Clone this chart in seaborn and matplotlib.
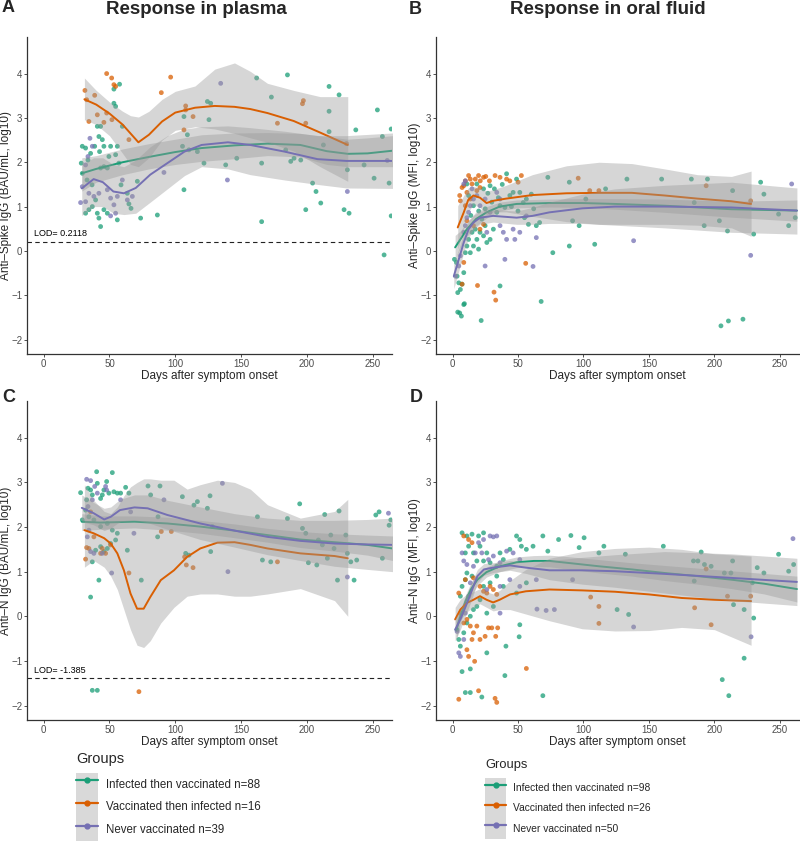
import numpy as np
import pandas as pd
import seaborn as sns
import matplotlib.pyplot as plt
from matplotlib.lines import Line2D
from matplotlib.patches import Patch
from matplotlib.legend_handler import HandlerTuple

groups = ["Infected then vaccinated", "Vaccinated then infected", "Never vaccinated"]
palette = {"Infected then vaccinated": "#1B9E77",
           "Vaccinated then infected": "#D95F02",
           "Never vaccinated": "#7570B3"}
n_plasma = [88, 16, 39]
n_oral = [98, 26, 50]

# ---------- points (day, log10 value) ----------
a_inf = [(29.4, 2.36), (28.6, 1.98), (31.9, 2.32), (35.7, 2.2), (33.7, 2.05), (38.8, 2.36), (40.8, 2.81),
         (42, 2.58), (43.3, 2.81), (44.6, 2.51), (42.5, 2.24), (45.8, 2.36), (43.3, 1.87), (45.8, 1.9),
         (48.4, 1.87), (49.6, 2.13), (50.9, 2.36), (54.7, 2.17), (56, 2.36), (57.2, 1.98), (53.4, 3.33),
         (54.7, 3.26), (57.7, 3.76), (53.4, 3.65), (59.8, 2.81), (29.4, 1.75), (33, 1.6), (36.8, 1.49),
         (31.9, 0.85), (34.4, 0.93), (37, 1.0), (39.5, 1.15), (40.8, 0.85), (42, 0.74), (43.3, 0.55),
         (45.8, 0.93), (48.4, 0.85), (56, 0.7), (58.8, 1.49), (63.6, 1.3), (64.8, 1.06), (66.4, 0.96),
         (71.2, 1.57), (73.7, 0.74), (86.4, 0.81), (106.6, 1.38), (109.2, 2.62), (106.6, 3.03),
         (105.5, 2.36), (110.4, 2.28), (116.8, 2.24), (124.4, 3.37), (126.9, 3.33), (125.6, 2.96),
         (121.8, 1.98), (138.3, 1.94), (146.7, 2.09), (161.8, 3.9), (173, 3.47), (165.6, 1.98),
         (165.6, 0.66), (185.2, 3.97), (183.9, 2.28), (187.7, 2.02), (190.2, 2.09), (195.3, 2.05),
         (199.1, 0.93), (204.3, 1.53), (206.9, 1.34), (210.5, 1.08), (212.5, 2.39), (216.8, 3.71),
         (216.8, 3.15), (216.8, 2.69), (224.4, 3.52), (228.2, 0.93), (230.7, 1.83), (232, 0.85),
         (237.1, 2.73), (243.4, 1.94), (251, 1.64), (253.5, 3.18), (257.3, 2.58), (262.4, 1.53),
         (258.6, -0.09), (264, 2.75), (264, 0.79)]
a_vac = [(31.4, 3.62), (32.7, 3.41), (38.8, 3.51), (34.4, 2.92), (40.8, 3.07), (47.9, 4.0), (51.7, 3.9),
         (53.4, 3.75), (54.7, 3.71), (47.9, 3.11), (51.9, 2.96), (45.8, 2.9), (64.8, 2.51), (89.4, 3.57),
         (96.5, 3.92), (107.9, 3.27), (107.9, 3.18), (113.5, 3.03), (106.6, 2.73), (177.6, 2.88),
         (196.6, 3.32), (197.3, 3.39), (199.1, 2.88), (230, 2.42)]
a_nev = [(134.5, 3.78), (139.6, 1.6), (35.2, 2.54), (37, 2.36), (33.7, 2.13), (31.9, 1.94), (28.1, 1.09),
         (31.9, 1.11), (34.4, 1.3), (38.2, 1.23), (29.4, 1.45), (42, 1.3), (48.4, 1.38), (50.9, 1.19),
         (53.4, 1.04), (56, 1.23), (54.7, 0.85), (50.9, 0.79), (59.8, 1.6), (63.6, 1.15), (67.4, 1.23),
         (91.4, 1.77), (230.7, 1.34), (261, 2.04)]

b_inf = [(1.5, -0.19), (3, -0.26), (3.5, -0.57), (4.8, -0.72), (6, -0.87), (4, -0.94), (5.5, -1.4),
         (8.6, -1.21), (7.3, -0.75), (8.6, -0.49), (9.8, -0.04), (11, 0.11), (12.3, 0.26), (13.6, -0.04),
         (14.9, 0.42), (16, 0.11), (17.4, 0.49), (18.6, 0.26), (19.9, 0.04), (21, 0.42), (22.4, 0.72),
         (23.7, 0.34), (24.9, 0.57), (26.2, 0.19), (28.7, 0.26), (31.2, 0.49), (33.8, 0.87), (36.3, 1.02),
         (40, 0.98), (43.8, 1.25), (46.3, 1.32), (48.9, 1.62), (51.4, 1.32), (54, 1.09), (56.4, 1.17),
         (60.2, 1.28), (64, 0.57), (66.5, 0.64), (11, 1.51), (12.3, 1.25), (16, 1.02), (18.6, 1.51),
         (23.7, 1.4), (28.7, 1.47), (41.3, 1.74), (72.8, 1.66), (76.6, -0.04), (89.2, 1.55), (89.2, 0.11),
         (91.7, 0.68), (96.7, 0.57), (101.8, 1.17), (108.6, 0.15), (116.9, 1.4), (133.2, 1.62),
         (159.7, 1.62), (182.4, 1.62), (184.6, 1.09), (194.7, 1.62), (192.2, 0.57), (203.8, 0.68),
         (210, 0.45), (213.9, 1.36), (230, 0.38), (235.3, 1.55), (237.8, 1.28), (249, 0.83),
         (256.7, 0.57), (261.7, 0.75), (36.3, -0.79), (4.0, -1.38), (6.8, -1.47), (9.1, -1.19),
         (21.9, -1.57), (67.7, -1.14), (205, -1.69), (210.7, -1.58), (221.8, -1.54), (14, 0.8),
         (20, 0.9), (25, 0.95), (30, 1.1), (35, 1.2), (45, 1.0), (50, 0.9), (55, 0.75), (58, 0.6),
         (62, 0.95), (27, 1.3), (32, 1.4), (38, 1.5)]
b_vac = [(12.3, 1.7), (13.6, 1.62), (14.9, 1.51), (17.4, 1.62), (19.9, 1.7), (21.2, 1.58), (23.7, 1.66),
         (25.4, 1.68), (9.8, 1.58), (8.6, 1.47), (7.3, 1.43), (5.5, 1.25), (6, 1.13), (11, 1.32),
         (13.6, 1.17), (18.6, 1.36), (21, 1.43), (32.5, 1.7), (36.3, 1.66), (41.3, 1.62), (43.8, 1.58),
         (50.1, 1.55), (52.6, 1.7), (9.8, 1.02), (11, 0.68), (16, 0.57), (21, 0.49), (23.7, 0.6),
         (8.6, -0.26), (7.3, -0.75), (19.1, -0.78), (31.7, -0.93), (33, -1.11), (55.9, -0.28),
         (96, 1.64), (104.8, 1.36), (111.8, 1.36), (193.7, 1.47), (227.7, 1.13), (28.2, 1.58)]
b_nev = [(2.3, -0.57), (4.8, -0.34), (6, -0.11), (8.6, 0.42), (9.8, 0.57), (11, 0.75), (12.3, 0.87),
         (13.6, 1.02), (16, 1.17), (14.9, 1.4), (9.8, 1.58), (8.6, 1.51), (18.6, 1.25), (21, 1.02),
         (24.9, 1.17), (26.2, 0.42), (28.7, 0.87), (33.8, 1.32), (36.3, 1.17), (36.3, 0.57), (38.8, 0.42),
         (41.3, 0.26), (46.3, 0.49), (47.6, 0.26), (51.4, 0.42), (56.4, 0.79), (64, 0.3), (61.5, -0.35),
         (24.9, -0.34), (40, -0.19), (138.3, 0.23), (227.7, -0.1), (259, 1.51)]

c_inf = [(28.1, 2.77), (29.4, 2.16), (32.7, 2.61), (33.7, 2.87), (35.7, 2.83), (37, 2.72), (40.3, 3.24),
         (40.8, 2.98), (43.3, 2.64), (44.6, 2.72), (45.8, 2.83), (47.9, 3.02), (49.6, 2.76), (52.2, 3.22),
         (53.4, 2.79), (56, 2.76), (58.5, 2.76), (62.3, 2.89), (64.8, 2.76), (31.9, 2.38), (34.4, 2.23),
         (38.2, 2.16), (43.3, 2.01), (48.4, 2.08), (52.2, 1.93), (56, 1.86), (35.7, 0.43), (42, 0.81),
         (37, 1.22), (39.5, 1.48), (43.3, 1.56), (45.8, 1.45), (48.4, 1.52), (50.9, 1.63), (54.7, 1.71),
         (63.6, 1.48), (37, -1.66), (40.8, -1.66), (74.2, 0.81), (79.3, 2.92), (88.4, 2.92), (81.3, 2.72),
         (86.9, 2.23), (86.6, 1.78), (105.4, 2.68), (107.9, 1.41), (110.4, 1.37), (114.2, 2.49),
         (116.8, 2.57), (124.4, 2.42), (126.4, 2.7), (126.9, 1.45), (128.2, 2.01), (162.4, 2.23),
         (166.2, 1.26), (172.5, 1.22), (185.2, 2.19), (194.5, 2.52), (196.6, 1.97), (199.1, 1.86),
         (201.1, 1.2), (207.5, 1.15), (208.7, 1.71), (211.7, 1.6), (213.5, 2.28), (215.5, 1.3),
         (218.1, 1.82), (220.6, 1.52), (223.2, 0.81), (224.4, 2.36), (229.5, 1.82), (230.7, 1.41),
         (233.3, 1.22), (235.8, 0.81), (237.8, 1.26), (252.3, 2.27), (254.8, 2.34), (257.3, 1.3),
         (262.4, 2.04), (263.7, 2.16)]
c_vac = [(31.9, 1.28), (34.4, 1.52), (32.7, 1.54), (38.2, 1.78), (44.6, 1.52), (47.1, 1.41), (50.9, 1.6),
         (43.3, 1.41), (35.7, 2.34), (64.8, 0.97), (72.4, -1.69), (89.4, 1.9), (97, 1.9), (108.4, 1.15),
         (113.5, 1.09), (107.1, 1.33), (177.6, 1.22)]
c_nev = [(32.7, 3.07), (35.7, 3.04), (33.7, 2.46), (38.8, 2.91), (40.8, 2.76), (47.1, 2.91), (47.9, 2.83),
         (37, 2.61), (34.4, 1.93), (33.2, 1.78), (35.7, 1.45), (38.2, 1.41), (44.6, 1.41), (51.7, 0.97),
         (58.5, 2.61), (66.1, 2.34), (68.6, 1.86), (91.4, 2.61), (135.8, 2.98), (140, 1.0), (230.7, 0.88),
         (261.9, 2.31)]

d_inf = [(7.3, 1.87), (11, 1.8), (14.9, 1.84), (19.9, 1.8), (23.7, 1.87), (12.3, 1.57), (9.8, 1.42),
         (16, 1.42), (21, 1.57), (26.2, 1.42), (18.6, 1.24), (23.7, 1.24), (28.7, 1.2), (33.8, 1.12),
         (36.3, 1.42), (38.8, 1.27), (43.8, 1.5), (48.9, 1.8), (51.4, 1.72), (52.6, 1.57), (56.4, 1.5),
         (61.5, 1.57), (69, 1.8), (72.8, 1.46), (81, 1.72), (90.4, 1.81), (96.7, 1.54), (100.5, 1.76),
         (111.8, 1.42), (115.6, 1.57), (132, 1.39), (134.5, 0.04), (161, 1.57), (184, 1.24), (184.6, 0.79),
         (187.4, 1.24), (189.9, 1.44), (192.4, 1.16), (197.5, 1.12), (207.6, 0.97), (212.6, 0.97),
         (213.9, 1.24), (222.7, -0.94), (222.7, 0.15), (229, 0.75), (230, -0.04), (232.7, 1.09),
         (237.8, 0.97), (249, 1.39), (256.7, 1.01), (260.5, 1.16), (206, -1.42), (211, -1.78),
         (69, -1.78), (40, -1.33), (26.2, -0.82), (13.6, -1.18), (7.3, -1.24), (9.8, -1.71),
         (13.6, -1.71), (22.4, -1.81), (50.9, -0.46), (51.4, -0.19), (40.8, -0.67), (3.5, -0.3),
         (4.8, -0.52), (6, -0.67), (8.6, -0.37), (11, -0.15), (13.6, 0.0), (16, 0.15), (18.6, 0.22),
         (6, 0.45), (7.3, 0.67), (9.8, 0.82), (11, 0.97), (14.9, 0.9), (23.7, 0.67), (28.7, 0.75),
         (33.8, 0.9), (38.8, 0.67), (21, 0.37), (26.2, 0.07), (31.2, 0.22), (48.9, 0.52), (56.4, 0.75),
         (125.7, 0.15), (214.6, 0.26)]
d_vac = [(8.6, 1.8), (12.3, 1.72), (14.9, 1.65), (9.8, 0.82), (16, 0.86), (21, 0.67), (23.7, 0.56),
         (26.2, 0.52), (28.7, 0.67), (31.2, 0.6), (33.8, 0.49), (4.8, 0.52), (6, 0.07), (8.6, -0.15),
         (11, -0.07), (13.6, -0.22), (16, -0.37), (18.6, -0.22), (21, -0.52), (24.9, -0.45), (27.5, -0.26),
         (30, -0.26), (33, -0.45), (34.5, -0.26), (14.9, -0.52), (11, -0.75), (12.3, -0.9), (16.9, -1.01),
         (4.8, -1.86), (19.9, -1.67), (32.5, -1.84), (33.8, -1.93), (56.4, -1.17), (105.5, 0.43),
         (111.8, 0.22), (111.8, -0.16), (184.9, 0.19), (193.7, 1.06), (197.5, -0.19), (210, 0.45),
         (227.7, 0.45)]
d_nev = [(3.5, -0.34), (4.8, -0.82), (6, -0.9), (8.6, -0.52), (9.8, 0.07), (12.3, 0.45), (13.6, 0.75),
         (16, 1.12), (17.4, 1.42), (19.9, 1.65), (23.7, 1.72), (28.7, 1.8), (31.2, 1.78), (33.8, 1.8),
         (22.4, 1.42), (27.5, 1.27), (31.2, 1.35), (36.3, 1.2), (41.3, 1.46), (46.3, 1.42), (51.4, 1.27),
         (8.6, 1.24), (7.3, 1.42), (11, 1.16), (26.2, 0.6), (36.3, 0.67), (43.8, 0.82), (51.4, 0.67),
         (64, 0.82), (64.5, 0.16), (71.5, 0.13), (77.8, 0.15), (91.7, 0.82), (138.3, -0.24),
         (228, -0.46), (260, 1.74), (36.3, 0.07)]

# ---------- smoothed fits (day, fit, lower, upper) ----------
a_inf_fit = [(29, 1.75, 1.35, 2.10), (40, 1.85, 1.55, 2.15), (60, 2.00, 1.72, 2.30), (80, 2.12, 1.85, 2.42),
             (100, 2.23, 1.95, 2.52), (120, 2.32, 2.02, 2.62), (145, 2.38, 2.08, 2.66), (170, 2.42, 2.15, 2.67),
             (195, 2.39, 2.12, 2.65), (215, 2.25, 1.95, 2.58), (231, 2.19, 1.90, 2.52), (246, 2.20, 1.90, 2.55),
             (265, 2.26, 1.90, 2.60)]
a_vac_fit = [(31, 3.42, 2.96, 3.90), (40, 3.30, 2.85, 3.62), (50, 3.10, 2.60, 3.36), (60, 2.85, 2.20, 3.15),
             (66, 2.65, 1.95, 3.05), (72, 2.45, 1.90, 3.02), (80, 2.62, 2.10, 3.15), (90, 2.92, 2.50, 3.42),
             (100, 3.12, 2.72, 3.60), (115, 3.23, 2.80, 3.72), (130, 3.27, 2.75, 4.10), (145, 3.25, 2.65, 4.24),
             (157, 3.20, 2.55, 4.05), (170, 3.11, 2.45, 3.78), (190, 2.93, 2.25, 3.62), (210, 2.67, 1.90, 3.48),
             (231, 2.39, 1.57, 3.48)]
a_nev_fit = [(29, 1.41, 0.80, 1.95), (38, 1.62, 1.00, 2.10), (45, 1.55, 1.00, 2.10), (53, 1.34, 0.85, 1.95),
             (61, 1.30, 0.82, 1.90), (70, 1.42, 0.85, 2.05), (81, 1.72, 1.10, 2.35), (94, 1.98, 1.40, 2.60),
             (107, 2.24, 1.70, 2.75), (120, 2.39, 1.90, 2.80), (140, 2.45, 1.85, 2.82), (157, 2.39, 1.72, 2.78),
             (183, 2.24, 1.60, 2.70), (208, 2.07, 1.50, 2.60), (230, 2.03, 1.42, 2.60), (265, 2.03, 1.41, 2.66)]

b_inf_fit = [(2, 0.08, -0.20, 0.35), (6, 0.26, 0.07, 0.45), (11, 0.49, 0.33, 0.65), (18, 0.72, 0.56, 0.88),
             (26, 0.87, 0.74, 1.00), (36, 1.00, 0.90, 1.10), (49, 1.06, 0.97, 1.15), (74, 1.08, 0.99, 1.17),
             (99, 1.08, 0.98, 1.18), (124, 1.06, 0.94, 1.18), (162, 1.02, 0.87, 1.17), (213, 0.94, 0.76, 1.12),
             (263, 0.91, 0.67, 1.15)]
b_vac_fit = [(4, 0.53, 0.04, 1.02), (8.6, 0.87, 0.50, 1.25), (12, 1.15, 0.88, 1.42), (16, 1.25, 1.05, 1.45),
             (21, 1.20, 0.98, 1.42), (26, 1.08, 0.82, 1.35), (31, 1.13, 0.88, 1.38), (41, 1.18, 0.88, 1.48),
             (61, 1.26, 0.78, 1.72), (87, 1.30, 0.66, 1.92), (112, 1.31, 0.60, 2.00), (137, 1.31, 0.60, 1.97),
             (162, 1.25, 0.60, 1.85), (187, 1.18, 0.58, 1.72), (213, 1.12, 0.52, 1.68), (228, 1.06, 0.33, 1.80)]
b_nev_fit = [(1, -0.57, -0.85, -0.30), (4.8, -0.19, -0.45, 0.05), (8.6, 0.19, -0.03, 0.40),
             (12.3, 0.49, 0.30, 0.68), (16, 0.64, 0.48, 0.80), (21, 0.75, 0.60, 0.90), (31, 0.79, 0.65, 0.93),
             (49, 0.75, 0.60, 0.90), (61, 0.79, 0.60, 0.98), (74, 0.87, 0.62, 1.10), (99, 0.96, 0.62, 1.28),
             (124, 1.00, 0.58, 1.40), (162, 1.00, 0.52, 1.48), (213, 0.98, 0.42, 1.55), (263, 0.91, 0.38, 1.42)]

c_inf_fit = [(29, 2.12, 1.92, 2.30), (43, 2.10, 1.95, 2.25), (69, 2.12, 1.98, 2.25), (94, 2.08, 1.93, 2.22),
             (119, 2.01, 1.86, 2.15), (145, 1.92, 1.76, 2.07), (170, 1.82, 1.66, 1.97), (195, 1.72, 1.54, 1.90),
             (221, 1.66, 1.46, 1.85), (246, 1.60, 1.37, 1.82), (265, 1.52, 1.25, 1.80)]
c_vac_fit = [(31, 1.93, 1.10, 2.95), (38, 1.86, 1.25, 2.60), (46, 1.75, 1.10, 2.35), (51, 1.63, 0.90, 2.30),
             (56, 1.41, 0.60, 2.45), (61, 1.03, 0.15, 2.70), (66, 0.51, -0.30, 2.90), (71, 0.17, -0.65, 3.00),
             (76, 0.17, -0.70, 3.08), (81, 0.43, -0.55, 3.08), (89, 0.81, -0.15, 3.05), (99, 1.03, 0.20, 3.05),
             (109, 1.33, 0.45, 2.85), (119, 1.52, 0.50, 2.95), (132, 1.65, 0.50, 3.05), (145, 1.66, 0.45, 3.00),
             (157, 1.60, 0.45, 2.85), (170, 1.52, 0.50, 2.50), (195, 1.41, 0.62, 2.20), (221, 1.35, 0.35, 2.35),
             (231, 1.30, 0.00, 2.62)]
c_nev_fit = [(29, 2.43, 2.12, 2.72), (38, 2.31, 2.05, 2.55), (46, 2.17, 1.92, 2.42), (51, 2.23, 1.98, 2.45),
             (58, 2.38, 2.12, 2.62), (69, 2.44, 2.15, 2.72), (79, 2.42, 2.10, 2.72), (94, 2.27, 1.95, 2.60),
             (119, 2.08, 1.72, 2.45), (145, 1.92, 1.55, 2.30), (170, 1.78, 1.38, 2.20), (195, 1.69, 1.25, 2.15),
             (221, 1.63, 1.12, 2.15), (246, 1.61, 1.05, 2.17), (265, 1.60, 1.00, 2.20)]

d_inf_fit = [(3, -0.30, -0.50, -0.10), (6, 0.00, -0.15, 0.15), (10, 0.34, 0.20, 0.48), (14, 0.60, 0.45, 0.75),
             (19, 0.82, 0.69, 0.95), (26, 0.99, 0.88, 1.10), (36, 1.12, 1.00, 1.24), (49, 1.21, 1.09, 1.33),
             (62, 1.24, 1.12, 1.36), (74, 1.24, 1.11, 1.37), (87, 1.20, 1.06, 1.34), (112, 1.12, 0.97, 1.27),
             (137, 1.05, 0.90, 1.20), (162, 0.97, 0.80, 1.14), (187, 0.90, 0.72, 1.08), (213, 0.82, 0.62, 1.02),
             (238, 0.73, 0.50, 0.96), (263, 0.61, 0.32, 0.90)]
d_vac_fit = [(2, -0.07, -0.35, 0.20), (6, 0.15, -0.08, 0.38), (11, 0.30, 0.10, 0.50), (16, 0.37, 0.20, 0.55),
             (21, 0.45, 0.28, 0.62), (26, 0.37, 0.20, 0.55), (31, 0.31, 0.12, 0.50), (36, 0.37, 0.15, 0.58),
             (44, 0.49, 0.15, 0.80), (56, 0.56, 0.05, 1.05), (74, 0.60, -0.10, 1.30), (99, 0.58, -0.28, 1.45),
             (124, 0.55, -0.33, 1.52), (150, 0.49, -0.32, 1.55), (175, 0.41, -0.25, 1.50), (200, 0.37, -0.30, 1.40),
             (228, 0.34, -0.65, 1.35)]
d_nev_fit = [(2, -0.30, -0.55, -0.05), (6, -0.07, -0.30, 0.15), (10, 0.22, 0.02, 0.42), (14, 0.52, 0.32, 0.72),
             (19, 0.90, 0.75, 1.05), (24, 1.05, 0.92, 1.18), (31, 1.09, 0.98, 1.20), (44, 1.14, 1.03, 1.25),
             (56, 1.09, 0.96, 1.22), (74, 1.03, 0.82, 1.25), (99, 1.03, 0.72, 1.32), (124, 1.01, 0.65, 1.38),
             (162, 0.95, 0.52, 1.45), (213, 0.86, 0.35, 1.40), (263, 0.77, 0.24, 1.30)]

lod_plasma_spike = 0.2118
lod_plasma_n = -1.385

sns.set_style("white")
plt.rcParams["font.family"] = ["Liberation Sans", "DejaVu Sans"]


def draw_panel(ax, pts, fits, ylabel, lod=None, lod_text=""):
    frames = []
    for g, p in zip(groups, pts):
        arr = np.array(p)
        frames.append(pd.DataFrame({"day": arr[:, 0], "value": arr[:, 1], "group": g}))
    df = pd.concat(frames, ignore_index=True)
    sns.scatterplot(data=df, x="day", y="value", hue="group", hue_order=groups, palette=palette,
                    s=12, alpha=0.75, linewidth=0, legend=False, ax=ax, zorder=2)
    if lod is not None:
        ax.axhline(lod, color="#222222", lw=0.8, ls=(0, (4, 3)), zorder=1)
        ax.text(-7.6, lod + 0.07, lod_text, fontsize=6.5, ha="left", va="bottom", color="black")
    # ribbon then line, group by group (ggplot order)
    for g, f in zip(groups, fits):
        arr = np.array(f)
        ax.fill_between(arr[:, 0], arr[:, 2], arr[:, 3], color="#999999", alpha=0.4, lw=0, zorder=3)
        sns.lineplot(x=arr[:, 0], y=arr[:, 1], color=palette[g], lw=1.4, ax=ax, zorder=3)
    ax.set_xlim(-12.6, 264.6)
    ax.set_ylim(-2.325, 4.825)
    ax.set_xticks([0, 50, 100, 150, 200, 250])
    ax.set_yticks([-2, -1, 0, 1, 2, 3, 4])
    ax.set_xlabel("Days after symptom onset", fontsize=8.5)
    ax.set_ylabel(ylabel, fontsize=8.5)
    ax.xaxis.set_label_coords(0.5, -0.05)
    ax.yaxis.set_label_coords(-0.042, 0.5)
    ax.tick_params(axis="both", length=2, width=0.6, color="#333333", labelcolor="#4D4D4D",
                   labelsize=7, pad=1.5, bottom=True, left=True)
    sns.despine(ax=ax)
    for s in ("left", "bottom"):
        ax.spines[s].set_color("#333333")
        ax.spines[s].set_linewidth(0.9)
    ax.grid(False)


fig = plt.figure(figsize=(8, 8.41), dpi=100)
W, H = 800, 841
ax_a = fig.add_axes([27 / W, 1 - 354 / H, 365 / W, 317 / H])
ax_b = fig.add_axes([436 / W, 1 - 354 / H, 363 / W, 317 / H])
ax_c = fig.add_axes([27 / W, 1 - 720 / H, 365 / W, 319 / H])
ax_d = fig.add_axes([436 / W, 1 - 720 / H, 363 / W, 319 / H])

draw_panel(ax_a, [a_inf, a_vac, a_nev], [a_inf_fit, a_vac_fit, a_nev_fit],
           "Anti–Spike IgG (BAU/mL, log10)", lod_plasma_spike, "LOD= 0.2118")
draw_panel(ax_b, [b_inf, b_vac, b_nev], [b_inf_fit, b_vac_fit, b_nev_fit],
           "Anti–Spike IgG (MFI, log10)")
draw_panel(ax_c, [c_inf, c_vac, c_nev], [c_inf_fit, c_vac_fit, c_nev_fit],
           "Anti–N IgG (BAU/mL, log10)", lod_plasma_n, "LOD= -1.385")
draw_panel(ax_d, [d_inf, d_vac, d_nev], [d_inf_fit, d_vac_fit, d_nev_fit],
           "Anti–N IgG (MFI, log10)")

fig.text(196 / W, 1 - 9 / H, "Response in plasma", fontsize=13.5, weight="bold", ha="center", va="center")
fig.text(608 / W, 1 - 9 / H, "Response in oral fluid", fontsize=13.5, weight="bold", ha="center", va="center")
for lab, x, y in [("A", 2, 8), ("B", 409, 9), ("C", 2, 398), ("D", 410, 398)]:
    fig.text(x / W, 1 - y / H, lab, fontsize=13, weight="bold", ha="left", va="center")


def make_legend(ns, anchor, fs, title_fs, hh, hl, gap):
    handles = []
    for g in groups:
        handles.append((Patch(facecolor="#D9D9D9", edgecolor="none"),
                        Line2D([], [], color=palette[g], lw=1.6, marker="o", markersize=3.5)))
    labels = [f"{g} n={n}" for g, n in zip(groups, ns)]
    leg = fig.legend(handles, labels, handler_map={tuple: HandlerTuple(ndivide=1)},
                     loc="upper left", bbox_to_anchor=anchor, frameon=False, title="Groups",
                     fontsize=fs, title_fontsize=title_fs, alignment="left", borderpad=0,
                     borderaxespad=0, labelspacing=0, handleheight=hh, handlelength=hl,
                     handletextpad=0.68)
    leg._legend_box.sep = gap  # space between the title and the keys
    return leg


make_legend(n_plasma, (76 / W, 1 - 752 / H), 8.3, 10.5, 2.65, 1.9, 5)
make_legend(n_oral, (485 / W, 1 - 759 / H), 7.4, 9.3, 2.66, 2.05, 5)

fig.savefig("out.png", dpi=100)
